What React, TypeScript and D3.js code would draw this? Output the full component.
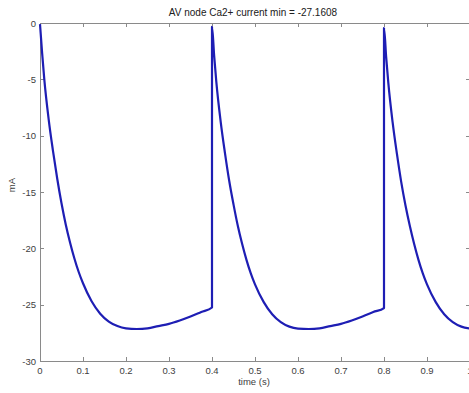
import React, { useEffect, useRef } from "react";
import * as d3 from "d3";

const TITLE = "AV node Ca2+ current min = -27.1608";
const X_LABEL = "time (s)";
const Y_LABEL = "mA";
const X_TICKS = [0, 0.1, 0.2, 0.3, 0.4, 0.5, 0.6, 0.7, 0.8, 0.9, 1];
const Y_TICKS = [0, -5, -10, -15, -20, -25, -30];

const TIME = [
  0.000, 0.005, 0.010, 0.020, 0.030, 0.040, 0.050, 0.060, 0.070, 0.080, 0.090, 0.100,
  0.120, 0.140, 0.160, 0.180, 0.200, 0.225, 0.250, 0.275, 0.300, 0.325, 0.350, 0.375, 0.400,
  0.400, 0.405, 0.410, 0.420, 0.430, 0.440, 0.450, 0.460, 0.470, 0.480, 0.490, 0.500,
  0.520, 0.540, 0.560, 0.580, 0.600, 0.625, 0.650, 0.675, 0.700, 0.725, 0.750, 0.775, 0.800,
  0.800, 0.805, 0.810, 0.820, 0.830, 0.840, 0.850, 0.860, 0.870, 0.880, 0.890, 0.900,
  0.920, 0.940, 0.960, 0.980, 1.000,
];
const CURRENT = [
  -0.1, -2.7, -5.0, -8.5, -11.3, -13.8, -16.0, -17.9, -19.5, -20.9, -22.1, -23.1,
  -24.7, -25.8, -26.5, -26.9, -27.1, -27.16, -27.1, -26.9, -26.7, -26.4, -26.05, -25.65, -25.25,
  -0.35, -2.9, -5.2, -8.7, -11.5, -14.0, -16.1, -18.0, -19.6, -21.0, -22.2, -23.2,
  -24.75, -25.85, -26.55, -26.95, -27.12, -27.16, -27.1, -26.9, -26.7, -26.4, -26.05, -25.65, -25.3,
  -0.45, -3.0, -5.3, -8.8, -11.6, -14.1, -16.2, -18.0, -19.6, -21.0, -22.2, -23.2,
  -24.75, -25.85, -26.55, -26.95, -27.12,
];

export default function App() {
  const ref = useRef<SVGSVGElement | null>(null);

  useEffect(() => {
    const svg = d3.select(ref.current);
    svg.selectAll("*").remove();
    const W = 469, H = 393;
    const L = 40, R = 470, T = 23, B = 361;
    const x = d3.scaleLinear().domain([0, 1]).range([L, R]);
    const y = d3.scaleLinear().domain([-30, 0]).range([B, T]);
    const font = "'Liberation Sans', Arial, sans-serif";
    const axisColor = "#8a8a8a";
    const textColor = "#404040";

    svg.append("rect").attr("width", W).attr("height", H).attr("fill", "#ffffff");

    svg.append("rect")
      .attr("x", L).attr("y", T).attr("width", R - L).attr("height", B - T)
      .attr("fill", "none").attr("stroke", axisColor).attr("stroke-width", 1)
      .attr("shape-rendering", "crispEdges");

    const tl = 4;
    const g = svg.append("g").attr("shape-rendering", "crispEdges");
    X_TICKS.forEach((t) => {
      const px = Math.round(x(t));
      g.append("line").attr("x1", px).attr("x2", px).attr("y1", B).attr("y2", B - tl).attr("stroke", axisColor);
      g.append("line").attr("x1", px).attr("x2", px).attr("y1", T).attr("y2", T + tl).attr("stroke", axisColor);
    });
    Y_TICKS.forEach((t) => {
      const py = Math.round(y(t));
      g.append("line").attr("x1", L).attr("x2", L + tl).attr("y1", py).attr("y2", py).attr("stroke", axisColor);
      g.append("line").attr("x1", R).attr("x2", R - tl).attr("y1", py).attr("y2", py).attr("stroke", axisColor);
    });

    svg.selectAll(".xt").data(X_TICKS).enter().append("text")
      .attr("x", (d) => x(d)).attr("y", 374)
      .attr("text-anchor", "middle").attr("font-family", font).attr("font-size", 9.5)
      .attr("fill", textColor).text((d) => d3.format("")(d));

    svg.selectAll(".yt").data(Y_TICKS).enter().append("text")
      .attr("x", 36).attr("y", (d) => y(d) + 3.5)
      .attr("text-anchor", "end").attr("font-family", font).attr("font-size", 9.5)
      .attr("fill", textColor).text((d) => String(d));

    svg.append("text").attr("x", 254).attr("y", 385).attr("text-anchor", "middle")
      .attr("font-family", font).attr("font-size", 9.5).attr("fill", textColor).text(X_LABEL);

    svg.append("text").attr("transform", "translate(15,185) rotate(-90)").attr("text-anchor", "middle")
      .attr("font-family", font).attr("font-size", 9.5).attr("fill", textColor).text(Y_LABEL);

    svg.append("text").attr("x", 253).attr("y", 16).attr("text-anchor", "middle")
      .attr("font-family", font).attr("font-size", 10).attr("fill", "#202020").text(TITLE);

    const data = TIME.map((t, i) => [t, CURRENT[i]] as [number, number]);
    const line = d3.line<[number, number]>()
      .x((d) => x(d[0])).y((d) => y(d[1]))
      .curve(d3.curveMonotoneX);
    svg.append("path").datum(data).attr("d", line)
      .attr("fill", "none").attr("stroke", "#1e1eb4").attr("stroke-width", 2.2)
      .attr("stroke-linejoin", "round");
  }, []);

  return (
    <svg ref={ref} width={469} height={393}
      style={{ position: "absolute", left: 0, top: 0, display: "block" }} />
  );
}
